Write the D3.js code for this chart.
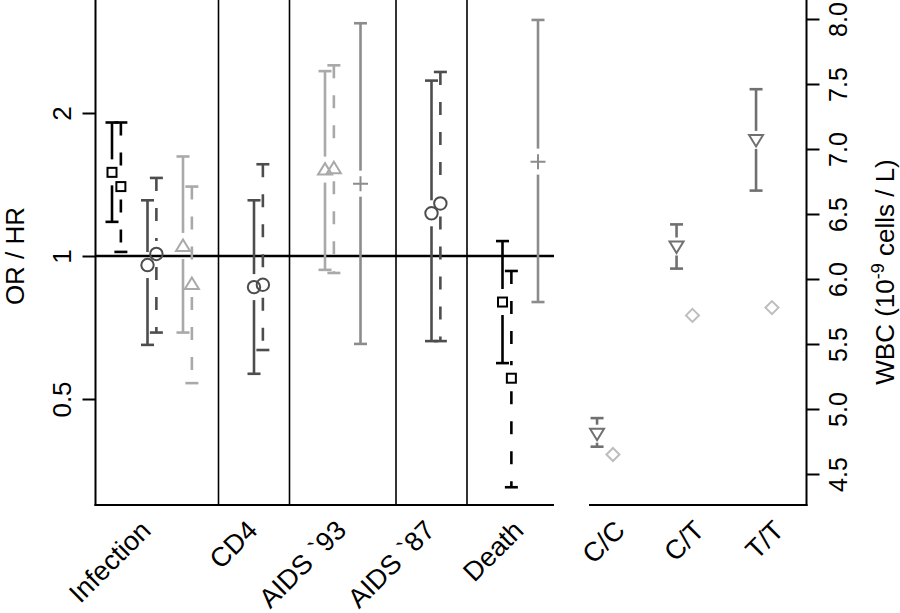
<!DOCTYPE html>
<html><head><meta charset="utf-8">
<script src="https://cdn.jsdelivr.net/npm/d3@7"></script>
<style>body{margin:0;background:#fff}svg{display:block}</style>
</head><body>
<svg id="c" width="900" height="613"></svg>
<script>
// ---------- data ----------
const groupLabels  = ["Infection", "CD4", "AIDS `93", "AIDS `87", "Death"];
const groupCenters = [1, 4, 6.5, 9, 11.5];
const groupDividers = [3, 5, 8, 10];
const orTicks = [0.5, 1, 2];
const orTickLabels = ["0.5", "1", "2"];

// odds / hazard ratio estimates (one entry per error bar)
const orSlot   = [0, 0.25, 1, 1.25, 2, 2.25,   4, 4.25,   6, 6.25, 7,   9, 9.25,   11, 11.25, 12];
const orModel  = ["A","A","B","B","C","C",     "B","B",   "C","C","D",  "B","B",   "A","A","D"];
const orDashed = [0,1,0,1,0,1,                 0,1,       0,1,0,        0,1,       0,1,0];
const orEst    = [1.50,1.40,0.957,1.01,1.05,0.873, 0.86,0.87,   1.52,1.53,1.42, 1.23,1.29, 0.80,0.553,1.58];
const orLo     = [1.18,1.02,0.65,0.69,0.69,0.54,   0.565,0.634, 0.935,0.921,0.653, 0.662,0.662, 0.595,0.326,0.80];
const orHi     = [1.91,1.91,1.31,1.46,1.62,1.40,   1.31,1.56,   2.45,2.52,3.09, 2.34,2.44, 1.075,0.93,3.14];

// WBC by genotype
const genotypes = ["C/C", "C/T", "T/T"];
const wbcEst = [4.81, 6.25, 7.07];
const wbcLo  = [4.71, 6.08, 6.68];
const wbcHi  = [4.93, 6.42, 7.46];
const wbcRef = [4.65, 5.72, 5.78];
const wbcTicks = [4.5, 5.0, 5.5, 6.0, 6.5, 7.0, 7.5, 8.0];

// ---------- styles ----------
const modelColor  = {A:"#000000", B:"#4d4d4d", C:"#a9a9a9", D:"#8c8c8c"};
const modelMarker = {A:"square", B:"circle", C:"triUp", D:"plus"};
const FONT = "'Liberation Sans', Arial, Helvetica, sans-serif";

const svg = d3.select("#c");

// ---------- scales ----------
const yL = d3.scaleLog().base(2).domain([0.5, 2]).range([399, 113]);
const xL = d3.scaleLinear().domain([0, 12]).range([112, 538]);
const yR = d3.scaleLinear().domain([4.5, 8.0]).range([474, 19]);
const xR = d3.scaleLinear().domain([1, 3]).range([605, 764]);

const PLOT_TOP = 0, PLOT_BOTTOM = 505;
const LEFT_X0 = 95.5, LEFT_X1 = 554, RIGHT_X0 = 589, RIGHT_X1 = 806.5;

// ---------- helpers ----------
function marker(g, type, x, y, color) {
  const sw = 2;
  if (type === "square") {
    g.append("rect").attr("x", x-4.5).attr("y", y-4.5).attr("width", 9).attr("height", 9)
      .attr("fill","none").attr("stroke",color).attr("stroke-width",sw);
  } else if (type === "circle") {
    g.append("circle").attr("cx", x).attr("cy", y).attr("r", 6.2)
      .attr("fill","none").attr("stroke",color).attr("stroke-width",sw);
  } else if (type === "triUp") {
    g.append("path").attr("d", `M${x},${y-6.5}L${x+7},${y+5}L${x-7},${y+5}Z`)
      .attr("fill","none").attr("stroke",color).attr("stroke-width",sw);
  } else if (type === "triDown") {
    g.append("path").attr("d", `M${x},${y+6.5}L${x+7},${y-5}L${x-7},${y-5}Z`)
      .attr("fill","none").attr("stroke",color).attr("stroke-width",sw);
  } else if (type === "plus") {
    g.append("path").attr("d", `M${x-7.5},${y}H${x+7.5}M${x},${y-7.5}V${y+7.5}`)
      .attr("fill","none").attr("stroke",color).attr("stroke-width",sw);
  } else if (type === "diamond") {
    g.append("path").attr("d", `M${x},${y-6.5}L${x+6.5},${y}L${x},${y+6.5}L${x-6.5},${y}Z`)
      .attr("fill","none").attr("stroke",color).attr("stroke-width",sw);
  }
}
function errBar(g, x, pe, plo, phi, gap, dashed, color) {
  const dash = dashed ? "13,17" : null;
  const lw = 2.6;
  if (pe - gap > phi)
    g.append("line").attr("x1",x).attr("x2",x).attr("y1",phi).attr("y2",pe-gap)
      .attr("stroke",color).attr("stroke-width",lw).attr("stroke-dasharray",dash);
  if (pe + gap < plo)
    g.append("line").attr("x1",x).attr("x2",x).attr("y1",pe+gap).attr("y2",plo)
      .attr("stroke",color).attr("stroke-width",lw).attr("stroke-dasharray",dash);
  [phi, plo].forEach(yy => g.append("line").attr("x1",x-6.5).attr("x2",x+6.5)
      .attr("y1",yy).attr("y2",yy).attr("stroke",color).attr("stroke-width",lw));
}

// ---------- left panel ----------
const gL = svg.append("g");
gL.selectAll("line.div").data(groupDividers).enter().append("line")
  .attr("x1", d => xL(d)).attr("x2", d => xL(d))
  .attr("y1", PLOT_TOP).attr("y2", PLOT_BOTTOM)
  .attr("stroke","#000").attr("stroke-width",1.6);
gL.append("line").attr("x1",LEFT_X0).attr("x2",LEFT_X1).attr("y1",yL(1)).attr("y2",yL(1))
  .attr("stroke","#000").attr("stroke-width",2.6);

orEst.forEach((e, i) => {
  const col = modelColor[orModel[i]];
  const x = xL(orSlot[i]);
  errBar(gL, x, yL(e), yL(orLo[i]), yL(orHi[i]), 13, orDashed[i] === 1, col);
  marker(gL, modelMarker[orModel[i]], x, yL(e), col);
});

// left axis
const axL = d3.axisLeft(yL).tickValues(orTicks).tickFormat((d,i) => orTickLabels[i]).tickSize(13).tickSizeOuter(0);
const gAxL = svg.append("g").attr("transform", `translate(${LEFT_X0},0)`).call(axL);
gAxL.select(".domain").remove();
gAxL.selectAll(".tick line").attr("stroke","#000").attr("stroke-width",2);
gAxL.selectAll(".tick text").attr("font-family",FONT).attr("font-size",26).attr("fill","#000")
  .attr("text-anchor","middle").attr("transform","rotate(-90)")
  .attr("x",0).attr("y",-25).attr("dy",0);
svg.append("line").attr("x1",LEFT_X0).attr("x2",LEFT_X0).attr("y1",PLOT_TOP).attr("y2",PLOT_BOTTOM+1)
  .attr("stroke","#000").attr("stroke-width",2);
svg.append("line").attr("x1",LEFT_X0-1).attr("x2",LEFT_X1).attr("y1",PLOT_BOTTOM).attr("y2",PLOT_BOTTOM)
  .attr("stroke","#000").attr("stroke-width",2);
svg.append("text").attr("font-family",FONT).attr("font-size",26).attr("text-anchor","middle")
  .attr("transform",`translate(24,${yL(1)}) rotate(-90)`).text("OR / HR");

// category labels left
groupLabels.forEach((lab, i) => {
  svg.append("text").attr("font-family",FONT).attr("font-size",27).attr("text-anchor","end")
    .attr("transform",`translate(${xL(groupCenters[i])+5},532) rotate(-45)`).text(lab);
});

// ---------- right panel ----------
const gR = svg.append("g");
genotypes.forEach((gname, i) => {
  const xc = xR(i+1);
  const xt = xc - (xR(2)-xR(1))*0.1, xd = xc + (xR(2)-xR(1))*0.1;
  errBar(gR, xt, yR(wbcEst[i]), yR(wbcLo[i]), yR(wbcHi[i]), 9, false, "#707070");
  marker(gR, "triDown", xt, yR(wbcEst[i]), "#707070");
  marker(gR, "diamond", xd, yR(wbcRef[i]), "#bdbdbd");
  svg.append("text").attr("font-family",FONT).attr("font-size",27).attr("text-anchor","end")
    .attr("transform",`translate(${xc + (xR(2)-xR(1))*0.27},532) rotate(-45)`).text(gname);
});
svg.append("line").attr("x1",RIGHT_X0).attr("x2",RIGHT_X1+1).attr("y1",PLOT_BOTTOM).attr("y2",PLOT_BOTTOM)
  .attr("stroke","#000").attr("stroke-width",2);
svg.append("line").attr("x1",RIGHT_X1).attr("x2",RIGHT_X1).attr("y1",PLOT_TOP).attr("y2",PLOT_BOTTOM+1)
  .attr("stroke","#000").attr("stroke-width",2);
const axR = d3.axisRight(yR).tickValues(wbcTicks).tickFormat(d3.format(".1f")).tickSize(13).tickSizeOuter(0);
const gAxR = svg.append("g").attr("transform", `translate(${RIGHT_X1},0)`).call(axR);
gAxR.select(".domain").remove();
gAxR.selectAll(".tick line").attr("stroke","#000").attr("stroke-width",2);
gAxR.selectAll(".tick text").attr("font-family",FONT).attr("font-size",25).attr("fill","#000")
  .attr("text-anchor","middle").attr("transform","rotate(-90)")
  .attr("x",0).attr("y",40).attr("dy",0);
const wl = svg.append("text").attr("font-family",FONT).attr("font-size",26).attr("text-anchor","middle")
  .attr("transform",`translate(894,272) rotate(-90)`);
wl.append("tspan").text("WBC (10");
wl.append("tspan").attr("dy",-10).attr("font-size",18).text("-9");
wl.append("tspan").attr("dy",10).text(" cells / L)");
</script>
</body></html>
